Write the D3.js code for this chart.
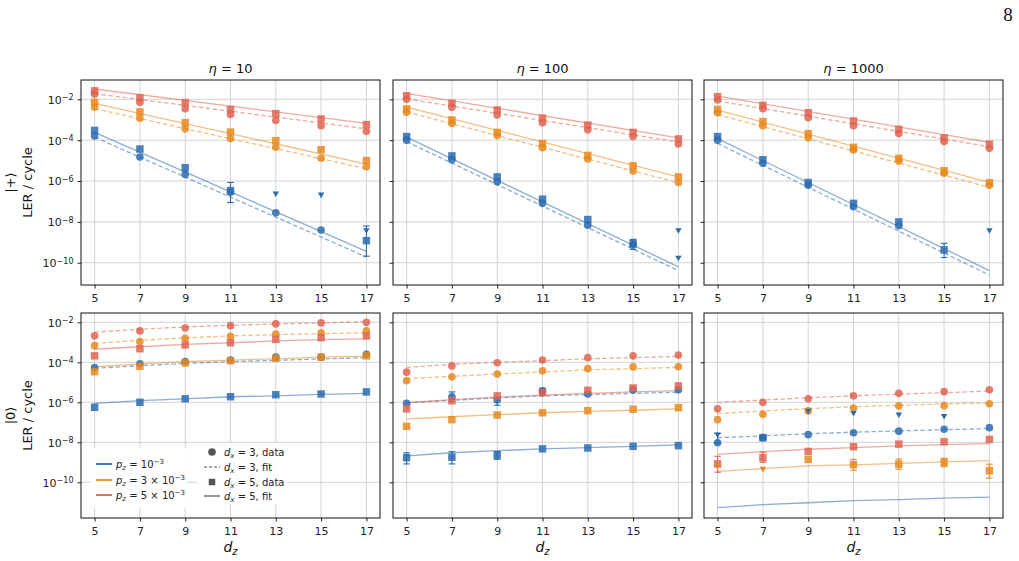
<!DOCTYPE html>
<html>
<head>
<meta charset="utf-8">
<script src="https://cdn.jsdelivr.net/npm/d3@7"></script>
<style>
  body { margin: 0; background: #fff; }
  svg { font-family: 'DejaVu Sans', sans-serif; }
</style>
</head>
<body>
<script>
/* global d3 */
(function() {
  'use strict';

  // ---- data ----
  const dz = [5, 7, 9, 11, 13, 15, 17];
  const fitDzPlus = [5, 17];          // top row fits are straight lines
  const etas = [10, 100, 1000];
  const yTickVals = [1e-2, 1e-4, 1e-6, 1e-8, 1e-10];
  const yTickExp = ['2', '4', '6', '8', '10'];
  const pMant = ['', '3 × ', '5 × '];  // p_z = 1e-3, 3e-3, 5e-3

  // rows in each array: p_z = 1e-3, 3e-3, 5e-3 ; null = no point
  // |+>, eta = 10
  const plus10_dx3 = [
    [1.6e-4, 1.5e-5, 2.1e-6, 2.8e-7, 2.8e-8, 4.0e-9, null],
    [4.1e-3, 1.2e-3, 3.6e-4, 1.2e-4, 4.5e-5, 1.3e-5, 5.0e-6],
    [1.8e-2, 7.1e-3, 3.5e-3, 1.8e-3, 9.3e-4, 5.1e-4, 2.7e-4]
  ];
  const plus10_dx5 = [
    [3.0e-4, 3.7e-5, 4.5e-6, 3.4e-7, null, null, 1.2e-9],
    [7.1e-3, 2.4e-3, 7.2e-4, 2.5e-4, 9.5e-5, 3.4e-5, 1.0e-5],
    [2.6e-2, 1.2e-2, 6.9e-3, 3.2e-3, 2.0e-3, 1.1e-3, 5.8e-4]
  ];
  const plus10_fit3 = [[1.4e-4, 1.9e-10], [3.5e-3, 4.0e-6], [1.9e-2, 3.6e-4]];
  const plus10_fit5 = [[2.4e-4, 3.6e-10], [6.3e-3, 6.8e-6], [3.2e-2, 6.6e-4]];

  // |+>, eta = 100
  const plus100_dx3 = [
    [1.0e-4, 1.1e-5, 9.3e-7, 8.1e-8, 6.9e-9, 7.4e-10, null],
    [2.3e-3, 6.6e-4, 1.7e-4, 4.3e-5, 1.2e-5, 3.1e-6, 8.5e-7],
    [1.0e-2, 4.1e-3, 1.7e-3, 7.2e-4, 3.2e-4, 1.5e-4, 6.5e-5]
  ];
  const plus100_dx5 = [
    [1.5e-4, 1.7e-5, 1.6e-6, 1.3e-7, 1.3e-8, 8.9e-10, null],
    [3.4e-3, 9.8e-4, 2.4e-4, 6.9e-5, 1.8e-5, 5.6e-6, 1.6e-6],
    [1.5e-2, 6.4e-3, 3.0e-3, 1.2e-3, 5.5e-4, 2.4e-4, 1.15e-4]
  ];
  const plus100_fit3 = [[8.5e-5, 4.1e-11], [2.4e-3, 8.3e-7], [1.05e-2, 8.1e-5]];
  const plus100_fit5 = [[1.4e-4, 6.3e-11], [4.2e-3, 1.6e-6], [1.95e-2, 1.3e-4]];

  // |+>, eta = 1000
  const plus1000_dx3 = [
    [1.0e-4, 7.4e-6, 6.3e-7, 5.5e-8, 6.5e-9, null, null],
    [2.2e-3, 5.1e-4, 1.3e-4, 3.3e-5, 9.5e-6, 2.4e-6, 6.3e-7],
    [9.3e-3, 3.5e-3, 1.26e-3, 5.1e-4, 2.1e-4, 8.5e-5, 4.0e-5]
  ];
  const plus1000_dx5 = [
    [1.5e-4, 1.1e-5, 8.5e-7, 8.1e-8, 1.0e-8, 4.2e-10, null],
    [3.2e-3, 8.1e-4, 2.1e-4, 4.5e-5, 1.3e-5, 3.2e-6, 8.3e-7],
    [1.35e-2, 5.1e-3, 2.2e-3, 8.7e-4, 3.4e-4, 1.3e-4, 6.3e-5]
  ];
  const plus1000_fit3 = [[6.9e-5, 2.5e-11], [1.8e-3, 4.9e-7], [8.3e-3, 4.8e-5]];
  const plus1000_fit5 = [[1.2e-4, 4.1e-11], [3.0e-3, 8.5e-7], [1.45e-2, 7.8e-5]];

  // |0>, eta = 10
  const zero10_dx3 = [
    [5.4e-5, 8.5e-5, 1.1e-4, 1.3e-4, 1.8e-4, 1.8e-4, 2.5e-4],
    [6.8e-4, 1.1e-3, 1.6e-3, 2.0e-3, 2.6e-3, 3.0e-3, 3.7e-3],
    [2.1e-3, 3.7e-3, 5.2e-3, 6.8e-3, 8.3e-3, 9.3e-3, 1.0e-2]
  ];
  const zero10_dx5 = [
    [5.6e-7, 1.0e-6, 1.5e-6, 1.9e-6, 2.4e-6, 2.6e-6, 3.3e-6],
    [3.4e-5, 6.3e-5, 9.3e-5, 1.2e-4, 1.6e-4, 1.8e-4, 2.1e-4],
    [2.1e-4, 4.8e-4, 7.4e-4, 9.5e-4, 1.4e-3, 1.7e-3, 2.1e-3]
  ];
  const zero10_fit3 = [
    [5.0e-5, 6.8e-5, 8.9e-5, 1.07e-4, 1.26e-4, 1.48e-4, 1.7e-4],
    [8.9e-4, 1.26e-3, 1.66e-3, 2.1e-3, 2.4e-3, 2.7e-3, 3.0e-3],
    [3.2e-3, 4.5e-3, 5.9e-3, 7.1e-3, 8.3e-3, 9.3e-3, 1.07e-2]
  ];
  const zero10_fit5 = [
    [8.9e-7, 1.2e-6, 1.5e-6, 1.9e-6, 2.1e-6, 2.5e-6, 2.8e-6],
    [6.0e-5, 8.3e-5, 1.07e-4, 1.3e-4, 1.5e-4, 1.8e-4, 2.0e-4],
    [4.5e-4, 6.0e-4, 7.9e-4, 9.5e-4, 1.17e-3, 1.35e-3, 1.5e-3]
  ];

  // |0>, eta = 100
  const zero100_dx3 = [
    [8.9e-7, 1.9e-6, 1.3e-6, 3.8e-6, 2.6e-6, 4.2e-6, 4.2e-6],
    [1.2e-5, 1.9e-5, 2.6e-5, 3.8e-5, 4.8e-5, 5.9e-5, 6.0e-5],
    [3.2e-5, 6.6e-5, 9.5e-5, 1.3e-4, 1.7e-4, 2.1e-4, 2.3e-4]
  ];
  const zero100_dx5 = [
    [1.7e-9, 1.8e-9, 2.3e-9, 4.7e-9, 5.2e-9, 6.3e-9, 6.8e-9],
    [6.3e-8, 1.35e-7, 2.3e-7, 3.0e-7, 3.8e-7, 4.5e-7, 5.4e-7],
    [4.7e-7, 1.2e-6, 2.1e-6, 3.0e-6, 4.0e-6, 5.2e-6, 6.6e-6]
  ];
  const zero100_fit3 = [
    [9.5e-7, 1.26e-6, 1.66e-6, 2.1e-6, 2.4e-6, 2.8e-6, 3.2e-6],
    [1.5e-5, 2.0e-5, 2.6e-5, 3.3e-5, 4.2e-5, 4.8e-5, 5.6e-5],
    [5.6e-5, 7.9e-5, 1.0e-4, 1.2e-4, 1.5e-4, 1.7e-4, 2.0e-4]
  ];
  const zero100_fit5 = [
    [2.1e-9, 3.0e-9, 3.8e-9, 4.7e-9, 5.4e-9, 6.3e-9, 7.4e-9],
    [1.5e-7, 1.9e-7, 2.4e-7, 3.0e-7, 3.5e-7, 4.0e-7, 4.7e-7],
    [9.5e-7, 1.35e-6, 1.8e-6, 2.3e-6, 2.8e-6, 3.3e-6, 3.8e-6]
  ];

  // |0>, eta = 1000
  const zero1000_dx3 = [
    [9.5e-9, 1.7e-8, 2.4e-8, 3.0e-8, 3.6e-8, 4.5e-8, 5.4e-8],
    [1.35e-7, 2.5e-7, 3.7e-7, 5.2e-7, 6.6e-7, 6.8e-7, 8.5e-7],
    [4.7e-7, 1.0e-6, 1.5e-6, 2.1e-6, 2.8e-6, 3.4e-6, 4.2e-6]
  ];
  const zero1000_dx5 = [
    [null, 1.7e-8, null, null, null, null, null],
    [null, null, 1.4e-9, 7.6e-10, 8.1e-10, 1.0e-9, 3.8e-10],
    [8.3e-10, 1.7e-9, 3.5e-9, 6.0e-9, 8.1e-9, 1.07e-8, 1.4e-8]
  ];
  const zero1000_fit3 = [
    [1.7e-8, 2.1e-8, 2.7e-8, 3.2e-8, 3.7e-8, 4.3e-8, 4.8e-8],
    [2.7e-7, 3.7e-7, 4.8e-7, 6.0e-7, 7.1e-7, 8.3e-7, 9.3e-7],
    [1.0e-6, 1.3e-6, 1.7e-6, 2.1e-6, 2.6e-6, 3.0e-6, 3.7e-6]
  ];
  const zero1000_fit5 = [
    [5.4e-12, 7.6e-12, 9.5e-12, 1.2e-11, 1.35e-11, 1.6e-11, 1.8e-11],
    [3.5e-10, 4.8e-10, 6.6e-10, 7.4e-10, 8.9e-10, 1.05e-9, 1.2e-9],
    [2.5e-9, 3.4e-9, 4.5e-9, 5.4e-9, 6.6e-9, 7.6e-9, 8.5e-9]
  ];

  // upper limits: [row, eta index, p index, d_x, d_z, value]
  const upperLimits = [
    [0, 0, 0, 5, 13, 2.5e-7], [0, 0, 0, 5, 15, 2.2e-7], [0, 0, 0, 3, 17, 4.0e-9],
    [0, 1, 0, 5, 17, 4.0e-9], [0, 1, 0, 3, 17, 1.8e-10],
    [0, 2, 0, 5, 17, 4.0e-9],
    [1, 2, 0, 5, 5, 2.5e-8], [1, 2, 0, 5, 9, 3.8e-7], [1, 2, 0, 5, 11, 3.0e-7],
    [1, 2, 0, 5, 13, 2.5e-7], [1, 2, 0, 5, 15, 2.1e-7],
    [1, 2, 1, 5, 5, 7.1e-10], [1, 2, 1, 5, 7, 4.8e-10]
  ];

  // error bars: [row, eta index, p index, d_z, low, high]
  const errorBars = [
    [0, 0, 0, 11, 8.9e-8, 8.5e-7], [0, 0, 0, 17, 2.1e-10, 6.3e-9],
    [0, 1, 0, 15, 4.5e-10, 1.4e-9],
    [0, 2, 0, 15, 1.8e-10, 8.9e-10],
    [1, 1, 0, 7, 1.1e-6, 3.3e-6], [1, 1, 0, 9, 7.1e-7, 1.6e-6], [1, 1, 0, 11, 2.3e-6, 5.0e-6],
    [1, 1, 0, 5, 8.3e-10, 3.0e-9], [1, 1, 0, 7, 8.3e-10, 3.4e-9], [1, 1, 0, 9, 1.4e-9, 3.4e-9],
    [1, 2, 0, 5, 9.0e-9, 2.8e-8],
    [1, 2, 2, 5, 3.2e-10, 2.0e-9], [1, 2, 2, 7, 1.0e-9, 3.2e-9],
    [1, 2, 1, 11, 4.0e-10, 1.4e-9], [1, 2, 1, 13, 4.5e-10, 1.45e-9],
    [1, 2, 1, 15, 6.0e-10, 1.6e-9], [1, 2, 1, 17, 1.6e-10, 8.1e-10]
  ];

  const panels = [
    [
      {dx3: plus10_dx3, dx5: plus10_dx5, fit3: plus10_fit3, fit5: plus10_fit5},
      {dx3: plus100_dx3, dx5: plus100_dx5, fit3: plus100_fit3, fit5: plus100_fit5},
      {dx3: plus1000_dx3, dx5: plus1000_dx5, fit3: plus1000_fit3, fit5: plus1000_fit5}
    ],
    [
      {dx3: zero10_dx3, dx5: zero10_dx5, fit3: zero10_fit3, fit5: zero10_fit5},
      {dx3: zero100_dx3, dx5: zero100_dx5, fit3: zero100_fit3, fit5: zero100_fit5},
      {dx3: zero1000_dx3, dx5: zero1000_dx5, fit3: zero1000_fit3, fit5: zero1000_fit5}
    ]
  ];

  // ---- layout ----
  const w = 1019;
  const h = 561;
  const colLeft = [81, 393, 704];
  const rowTop = [80, 313];
  const pw = 299;
  const ph = 205;
  const yDomains = [[8.83e-2, 8.13e-12], [2.92e-2, 1.64e-12]];
  const colors = ['#2b6cb0', '#e8891d', '#df6451'];
  const gridColor = '#d3d3d3';

  const xScales = colLeft.map((l) =>
    d3.scaleLinear().domain([4.4, 17.6]).range([l, l + pw]));
  const yScales = rowTop.map((t, r) =>
    d3.scaleLog().domain(yDomains[r]).range([t, t + ph]));

  const svg = d3.select('body').append('svg')
    .attr('width', w)
    .attr('height', h);

  const circleSym = d3.symbol(d3.symbolCircle, 46);
  const squareSym = d3.symbol(d3.symbolSquare, 56);
  const triSym = d3.symbol(d3.symbolTriangle, 18);

  panels.forEach((row, r) => row.forEach((pd, c) => {
    const x = xScales[c];
    const y = yScales[r];
    const g = svg.append('g');

    // grid
    g.selectAll('line.vg').data(dz).enter().append('line')
      .attr('x1', (d) => x(d)).attr('x2', (d) => x(d))
      .attr('y1', rowTop[r]).attr('y2', rowTop[r] + ph)
      .attr('stroke', gridColor).attr('stroke-width', 1);
    g.selectAll('line.hg').data(yTickVals).enter().append('line')
      .attr('x1', colLeft[c]).attr('x2', colLeft[c] + pw)
      .attr('y1', (d) => y(d)).attr('y2', (d) => y(d))
      .attr('stroke', gridColor).attr('stroke-width', 1);

    // x axis
    const xAxis = d3.axisBottom(x).tickValues(dz).tickSize(3.5).tickPadding(5.5);
    const xg = g.append('g')
      .attr('transform', 'translate(0,' + (rowTop[r] + ph) + ')')
      .call(xAxis);
    xg.select('.domain').remove();
    xg.selectAll('text').attr('font-size', 11).attr('font-family', 'DejaVu Sans').attr('fill', '#222');
    xg.selectAll('line').attr('stroke', '#222');

    // y axis
    const yAxis = d3.axisLeft(y).tickValues(yTickVals).tickSize(3.5).tickPadding(4)
      .tickFormat(() => '');
    const yg = g.append('g')
      .attr('transform', 'translate(' + colLeft[c] + ',0)')
      .call(yAxis);
    yg.select('.domain').remove();
    yg.selectAll('line').attr('stroke', '#222');
    if (c === 0) {
      yg.selectAll('text').each(function(d, i) {
        const t = d3.select(this)
          .attr('font-size', 11).attr('font-family', 'DejaVu Sans').attr('fill', '#222')
          .attr('dy', '0.36em');
        t.append('tspan').text('10');
        t.append('tspan').attr('dy', '-0.45em').attr('font-size', 8).text('\u2212' + yTickExp[i]);
      });
    }

    // fits
    const fitX = r === 0 ? fitDzPlus : dz;
    [pd.fit3, pd.fit5].forEach((fits, k) => {
      fits.forEach((vals, p) => {
        const line = d3.line().x((v, i) => x(fitX[i])).y((v) => y(v));
        g.append('path')
          .attr('d', line(vals))
          .attr('fill', 'none')
          .attr('stroke', colors[p])
          .attr('stroke-opacity', 0.55)
          .attr('stroke-width', 1.3)
          .attr('stroke-dasharray', k === 0 ? '4.5,2.5' : null);
      });
    });

    // error bars
    errorBars.filter((e) => e[0] === r && e[1] === c).forEach((e) => {
      const cx = x(e[3]);
      const col = colors[e[2]];
      g.append('line').attr('x1', cx).attr('x2', cx)
        .attr('y1', y(e[4])).attr('y2', y(e[5]))
        .attr('stroke', col).attr('stroke-width', 1.1);
      [e[4], e[5]].forEach((v) => {
        g.append('line').attr('x1', cx - 3.3).attr('x2', cx + 3.3)
          .attr('y1', y(v)).attr('y2', y(v))
          .attr('stroke', col).attr('stroke-width', 1.1);
      });
    });

    // data markers
    [[pd.dx3, circleSym], [pd.dx5, squareSym]].forEach(([series, sym]) => {
      series.forEach((vals, p) => {
        vals.forEach((v, i) => {
          if (v === null) return;
          g.append('path')
            .attr('d', sym())
            .attr('transform', 'translate(' + x(dz[i]) + ',' + y(v) + ')')
            .attr('fill', colors[p])
            .attr('fill-opacity', 0.85);
        });
      });
    });

    // upper limits
    upperLimits.filter((u) => u[0] === r && u[1] === c).forEach((u) => {
      g.append('path')
        .attr('d', triSym())
        .attr('transform', 'translate(' + x(u[4]) + ',' + y(u[5]) + ') rotate(180)')
        .attr('fill', colors[u[2]]);
    });

    // frame
    g.append('rect')
      .attr('x', colLeft[c]).attr('y', rowTop[r])
      .attr('width', pw).attr('height', ph)
      .attr('fill', 'none').attr('stroke', '#111').attr('stroke-width', 1);

    // titles
    if (r === 0) {
      const t = svg.append('text')
        .attr('x', colLeft[c] + pw / 2).attr('y', 72.5)
        .attr('text-anchor', 'middle').attr('font-size', 13).attr('fill', '#111');
      t.append('tspan').attr('font-style', 'italic').text('\u03b7');
      t.append('tspan').text(' = ' + etas[c]);
    } else {
      const t = svg.append('text')
        .attr('x', colLeft[c] + pw / 2).attr('y', 552)
        .attr('text-anchor', 'middle').attr('font-size', 14).attr('fill', '#111');
      t.append('tspan').attr('font-style', 'italic').text('d');
      t.append('tspan').attr('font-style', 'italic').attr('font-size', 10).attr('dy', 3).text('z');
    }
  }));

  // row labels
  const stateLabels = ['|+\u27e9', '|0\u27e9'];
  rowTop.forEach((t, r) => {
    const cy = t + ph / 2;
    svg.append('text')
      .attr('transform', 'translate(15,' + cy + ') rotate(-90)')
      .attr('text-anchor', 'middle').attr('font-size', 13).attr('fill', '#111')
      .text(stateLabels[r]);
    svg.append('text')
      .attr('transform', 'translate(32,' + cy + ') rotate(-90)')
      .attr('text-anchor', 'middle').attr('font-size', 13).attr('fill', '#111')
      .text('LER / cycle');
  });

  // legends (bottom-left panel)
  const lg = svg.append('g').attr('font-size', 10).attr('fill', '#222');
  lg.append('rect').attr('x', 90).attr('y', 448).attr('width', 96).attr('height', 60)
    .attr('fill', '#fff').attr('fill-opacity', 0.9);
  lg.append('rect').attr('x', 197).attr('y', 443).attr('width', 90).attr('height', 61)
    .attr('fill', '#fff').attr('fill-opacity', 0.9);

  const pRows = [464, 480, 495];
  pRows.forEach((yy, p) => {
    lg.append('line').attr('x1', 96).attr('x2', 112).attr('y1', yy).attr('y2', yy)
      .attr('stroke', colors[p]).attr('stroke-width', 1.8);
    const t = lg.append('text').attr('x', 116).attr('y', yy).attr('dy', '0.35em');
    t.append('tspan').attr('font-style', 'italic').text('p');
    t.append('tspan').attr('font-style', 'italic').attr('font-size', 7).attr('dy', 2.5).text('z');
    t.append('tspan').attr('dy', -2.5).text(' = ' + pMant[p] + '10');
    t.append('tspan').attr('font-size', 7).attr('dy', -4).text('\u22123');
  });

  const dRows = [452, 467, 482, 496];
  const dLabels = [['3', 'data'], ['3', 'fit'], ['5', 'data'], ['5', 'fit']];
  dRows.forEach((yy, i) => {
    if (i === 0) {
      lg.append('path').attr('d', circleSym()).attr('transform', 'translate(212,' + yy + ')')
        .attr('fill', '#555');
    } else if (i === 2) {
      lg.append('path').attr('d', d3.symbol(d3.symbolSquare, 42)())
        .attr('transform', 'translate(212,' + yy + ')').attr('fill', '#555');
    } else {
      lg.append('line').attr('x1', 204).attr('x2', 220).attr('y1', yy).attr('y2', yy)
        .attr('stroke', '#555').attr('stroke-width', 1.2)
        .attr('stroke-dasharray', i === 1 ? '3,2' : null);
    }
    const t = lg.append('text').attr('x', 224).attr('y', yy).attr('dy', '0.35em');
    t.append('tspan').attr('font-style', 'italic').text('d');
    t.append('tspan').attr('font-style', 'italic').attr('font-size', 7).attr('dy', 2.5).text('x');
    t.append('tspan').attr('dy', -2.5).text(' = ' + dLabels[i][0] + ', ' + dLabels[i][1]);
  });

  // page number
  svg.append('text')
    .attr('x', 1008).attr('y', 21)
    .attr('text-anchor', 'middle')
    .attr('font-family', 'Liberation Serif, serif')
    .attr('font-size', 19)
    .attr('fill', '#111')
    .text('8');
}());
</script>
</body>
</html>
